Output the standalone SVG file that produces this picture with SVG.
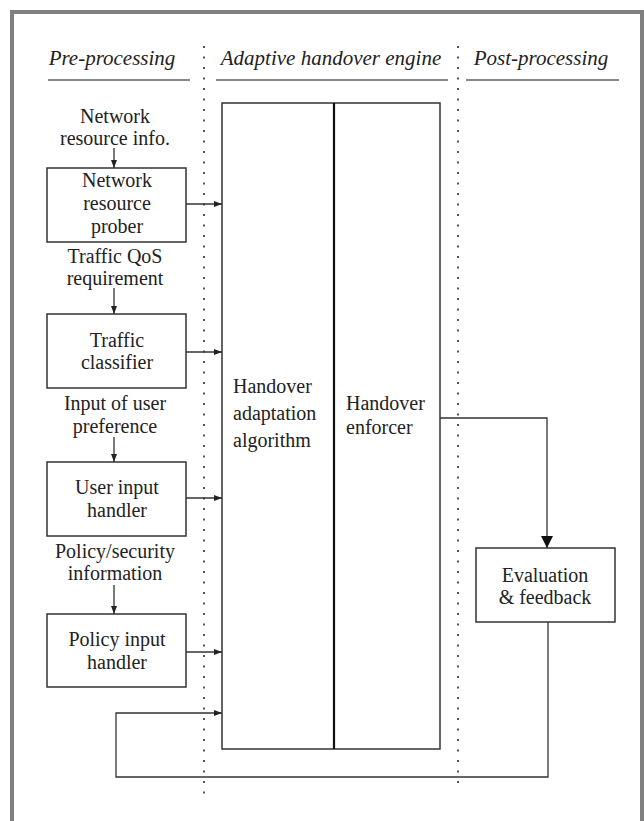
<svg xmlns="http://www.w3.org/2000/svg" width="644" height="821" viewBox="0 0 644 821">
<style>
.t{font-family:"Liberation Serif","Times New Roman",serif;font-size:20px;fill:#222;text-anchor:middle}
.l{text-anchor:start}
.h{font-style:italic;font-size:21px}
.box{fill:none;stroke:#333;stroke-width:1.5}
.c{fill:none;stroke:#333;stroke-width:1.3}
.dot{stroke:#555;stroke-width:2;stroke-dasharray:2 8.5}
.ul{stroke:#888;stroke-width:2}
</style>
<defs>
<marker id="a" viewBox="0 0 8 6" refX="8" refY="3" markerWidth="8" markerHeight="6" markerUnits="userSpaceOnUse" orient="auto"><path d="M0,0L8,3L0,6z" fill="#222"/></marker>
<marker id="b" viewBox="0 0 12 12" refX="12" refY="6" markerWidth="12" markerHeight="12" markerUnits="userSpaceOnUse" orient="auto"><path d="M0,0L12,6L0,12z" fill="#111"/></marker>
</defs>
<rect x="0" y="0" width="644" height="821" fill="#fff"/>
<rect x="12" y="12" width="630" height="840" fill="none" stroke="#808080" stroke-width="4"/>
<g id="headers">
<text class="t h" x="112" y="65">Pre-processing</text>
<text class="t h" x="331" y="65">Adaptive handover engine</text>
<text class="t h" x="541" y="65">Post-processing</text>
<line class="ul" x1="48" y1="80" x2="190" y2="80"/>
<line class="ul" x1="216" y1="80" x2="448" y2="80"/>
<line class="ul" x1="466" y1="80" x2="619" y2="80"/>
</g>
<g id="dividers">
<line class="dot" x1="204" y1="46" x2="204" y2="795"/>
<line class="dot" x1="458" y1="46" x2="458" y2="790"/>
</g>
<g id="labels">
<text class="t" x="115" y="123">Network</text>
<text class="t" x="115" y="145">resource info.</text>
<text class="t" x="115" y="263">Traffic QoS</text>
<text class="t" x="115" y="285">requirement</text>
<text class="t" x="115" y="410">Input of user</text>
<text class="t" x="115" y="433">preference</text>
<text class="t" x="115" y="558">Policy/security</text>
<text class="t" x="115" y="580">information</text>
</g>
<g id="n1"><rect class="box" x="47" y="168" width="139" height="74"/>
<text class="t" x="117" y="187">Network</text><text class="t" x="117" y="210">resource</text><text class="t" x="117" y="233">prober</text></g>
<g id="n2"><rect class="box" x="47" y="314" width="139" height="74"/>
<text class="t" x="117" y="347">Traffic</text><text class="t" x="117" y="369">classifier</text></g>
<g id="n3"><rect class="box" x="47" y="462" width="139" height="74"/>
<text class="t" x="117" y="494">User input</text><text class="t" x="117" y="517">handler</text></g>
<g id="n4"><rect class="box" x="47" y="614" width="139" height="73"/>
<text class="t" x="117" y="646">Policy input</text><text class="t" x="117" y="669">handler</text></g>
<g id="engine"><rect class="box" x="222" y="103" width="218" height="646"/>
<line x1="334" y1="103" x2="334" y2="749" stroke="#111" stroke-width="2.2"/>
<text class="t l" x="233" y="393">Handover</text><text class="t l" x="233" y="420">adaptation</text><text class="t l" x="233" y="447">algorithm</text>
<text class="t l" x="346" y="410">Handover</text><text class="t l" x="346" y="434">enforcer</text></g>
<g id="eval"><rect class="box" x="476" y="548" width="139" height="74"/>
<text class="t" x="545" y="582">Evaluation</text><text class="t" x="545" y="604">&amp; feedback</text></g>
<g id="connectors">
<line class="c" x1="114" y1="148" x2="114" y2="168" marker-end="url(#a)"/>
<line class="c" x1="114" y1="288" x2="114" y2="314" marker-end="url(#a)"/>
<line class="c" x1="114" y1="437" x2="114" y2="462" marker-end="url(#a)"/>
<line class="c" x1="114" y1="585" x2="114" y2="614" marker-end="url(#a)"/>
<line class="c" x1="186" y1="204" x2="222" y2="204" marker-end="url(#a)"/>
<line class="c" x1="186" y1="352" x2="222" y2="352" marker-end="url(#a)"/>
<line class="c" x1="186" y1="498" x2="222" y2="498" marker-end="url(#a)"/>
<line class="c" x1="186" y1="652" x2="222" y2="652" marker-end="url(#a)"/>
<path class="c" d="M440,418H547V548" marker-end="url(#b)"/>
<path class="c" d="M548,622V777H116V713H222" marker-end="url(#a)"/>
</g>
</svg>
